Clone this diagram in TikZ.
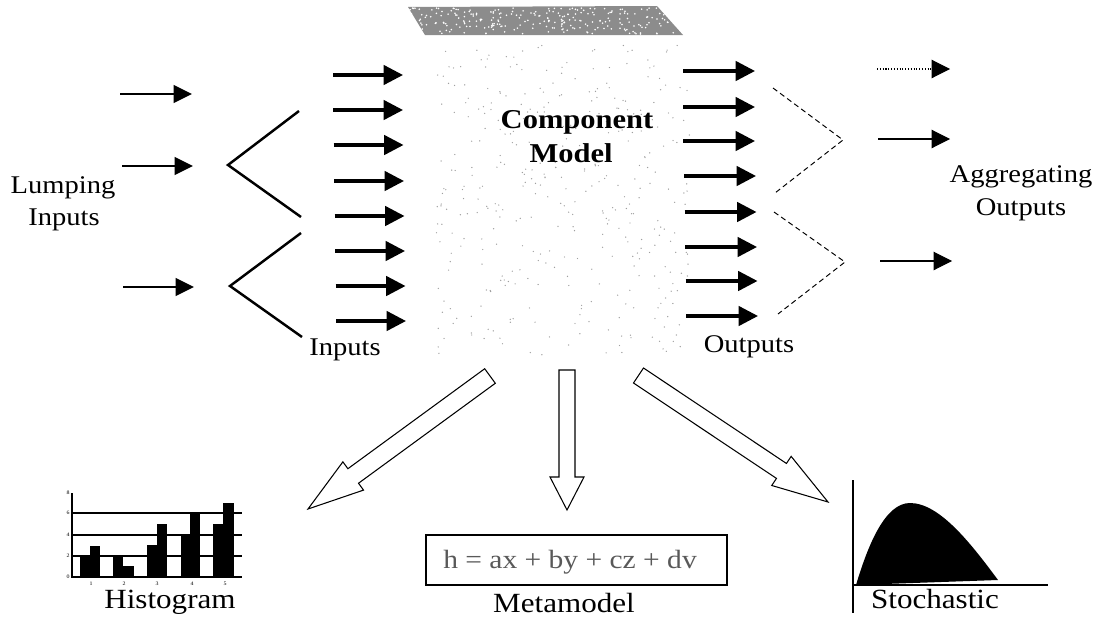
\documentclass[tikz,border=0pt]{standalone}
\usepackage{fontspec}
\setmainfont{Liberation Serif}[FakeStretch=1.12]
\usetikzlibrary{arrows.meta,calc}
\tikzset{
  lbl/.style={font=\fontsize{14.5}{17}\selectfont, inner sep=0pt, anchor=base},
  biglbl/.style={font=\fontsize{15.8}{18}\selectfont, inner sep=0pt, anchor=base},
  boldlbl/.style={font=\fontsize{15.5}{18}\selectfont\bfseries, inner sep=0pt, anchor=base},
  thickarr/.style={line width=1.9pt, -{Triangle[length=11pt,width=11pt]}},
  lumparr/.style={line width=1.4pt, -{Triangle[length=10.5pt,width=10pt]}},
  thinarr/.style={line width=0.6pt, -{Triangle[length=10.5pt,width=10.5pt]}},
  chev/.style={line width=1.4pt},
  dchev/.style={line width=0.55pt, densely dashed},
  blockarr/.style={line width=0.6pt, line join=miter, fill=white},
  speck/.style={fill=gray!75},
}
\newcommand\blockarrow[6]{% name, tail, tip, shaft half, head half, head length
  \coordinate (#1-n) at ($(#3)!#6!(#2)$);
  \draw[blockarr] ($(#2)!#4!90:(#3)$) -- ($(#1-n)!#4!90:(#3)$) -- ($(#1-n)!#5!90:(#3)$)
    -- (#3) -- ($(#1-n)!#5!-90:(#3)$) -- ($(#1-n)!#4!-90:(#3)$) -- ($(#2)!#4!-90:(#3)$) -- cycle;
}
\begin{document}
\begin{tikzpicture}[x=0.02cm, y=-0.02cm]
\useasboundingbox (0,0) rectangle (1098,622);

% ---- component model: shaded top and stippled body
\fill[black!45] (408,7) -- (657,6) -- (683,35) -- (425,35) -- cycle;
\pgfmathsetseed{11}
\foreach \i in {1,...,260}{
  \pgfmathsetmacro\rx{410+270*rnd}
  \pgfmathsetmacro\ry{8+26*rnd}
  \fill[white] (\rx,\ry) circle (0.5pt);
}
\foreach \i in {1,...,380}{
  \pgfmathsetmacro\rx{435+255*rnd}
  \pgfmathsetmacro\ry{45+310*rnd}
  \fill[speck] (\rx,\ry) circle (0.4pt);
}
\node[boldlbl] (compA) at (577,128) {Component};
\node[boldlbl] (compB) at (571,162) {Model};

% ---- lumping inputs
\node[lbl] (lumpA) at (63,193) {Lumping};
\node[lbl] (lumpB) at (64,225) {Inputs};
\coordinate (l1s) at (120,94);  \coordinate (l1e) at (192,94);
\coordinate (l2s) at (122,166); \coordinate (l2e) at (193,166);
\coordinate (l3s) at (123,287); \coordinate (l3e) at (194,287);
\draw[lumparr] (l1s) -- (l1e);
\draw[lumparr] (l2s) -- (l2e);
\draw[lumparr] (l3s) -- (l3e);

% chevrons
\coordinate (c1a) at (299,111); \coordinate (c1v) at (228,165); \coordinate (c1b) at (301,217);
\coordinate (c2a) at (301,233); \coordinate (c2v) at (230,286); \coordinate (c2b) at (302,337);
\draw[chev] (c1a) -- (c1v) -- (c1b);
\draw[chev] (c2a) -- (c2v) -- (c2b);

% inputs
\foreach \y/\d [count=\k] in {75/0,110/0,145/0.5,181/1,216/1.5,251/2,286/2.5,321/3}{
  \coordinate (in\k s) at ({333+\d},\y);
  \coordinate (in\k e) at ({403+\d},\y);
  \draw[thickarr] (in\k s) -- (in\k e);
}
\node[lbl] (inputs) at (345,355) {Inputs};

% outputs
\foreach \y/\d [count=\k] in {71/0,107/0,141/0,176/1,212/1.5,247/2,281/2.5,316/3}{
  \coordinate (out\k s) at ({683+\d},\y);
  \coordinate (out\k e) at ({755+\d},\y);
  \draw[thickarr] (out\k s) -- (out\k e);
}
\node[lbl] (outputs) at (749,352) {Outputs};

% aggregating chevrons (dashed)
\coordinate (d1a) at (773,88);  \coordinate (d1v) at (843,140); \coordinate (d1b) at (775,193);
\coordinate (d2a) at (774,212); \coordinate (d2v) at (845,262); \coordinate (d2b) at (778,314);
\draw[dchev] (d1a) -- (d1v) -- (d1b);
\draw[dchev] (d2a) -- (d2v) -- (d2b);

\coordinate (a1s) at (877,69);  \coordinate (a1e) at (950,69);
\coordinate (a2s) at (878,139); \coordinate (a2e) at (950,139);
\coordinate (a3s) at (880,261); \coordinate (a3e) at (952,261);
\draw[thinarr,densely dotted] (a1s) -- (a1e);
\draw[thinarr] (a2s) -- (a2e);
\draw[thinarr] (a3s) -- (a3e);
\node[lbl] (aggA) at (1021,182) {Aggregating};
\node[lbl] (aggB) at (1021,215) {Outputs};

% ---- block arrows
\coordinate (ba1t) at (490,376); \coordinate (ba1h) at (308,509);
\coordinate (ba2t) at (567,370); \coordinate (ba2h) at (567,510);
\coordinate (ba3t) at (638.5,375.5); \coordinate (ba3h) at (828,502);
\blockarrow{ba1}{ba1t}{ba1h}{0.18cm}{0.35cm}{1.12cm}
\blockarrow{ba2}{ba2t}{ba2h}{0.16cm}{0.34cm}{0.66cm}
\blockarrow{ba3}{ba3t}{ba3h}{0.18cm}{0.35cm}{1.12cm}

% ---- histogram
\draw[line width=0.9pt] (72,493) -- (72,577) -- (242,577);
\foreach \y in {513,535,556}{ \draw[line width=0.9pt] (72,\y) -- (242,\y); }
\foreach \xa/\xb/\top in {80/90/557, 90/100/546, 113/123/557, 123/134/566, 147/157/545, 157/167/524, 181/190/535, 190/200/514, 213/223/524, 223/234/503}{
  \fill (\xa,\top) rectangle (\xb,577);
}
\foreach \v/\y in {0/577,2/556,4/535,6/513,8/493}{
  \node[font=\fontsize{3}{3}\selectfont, inner sep=0pt] (hy\v) at (68,\y) {\v};
}
\foreach \v/\x in {1/91,2/124,3/157,4/192,5/225}{
  \node[font=\fontsize{3}{3}\selectfont, inner sep=0pt] (hx\v) at (\x,584) {\v};
}
\node[biglbl] (hist) at (170,608) {Histogram};

% ---- metamodel
\node[draw, line width=1.2pt, minimum width=6.02cm, minimum height=1.0cm, inner sep=0pt] (mbox) at (576.5,560) {};
\node[lbl, font=\fontsize{15}{17}\selectfont, text=black!65] (eq) at (570,568) {h = ax + by + cz + dv};
\node[biglbl] (meta) at (564,612) {Metamodel};

% ---- stochastic
\fill (856,585) .. controls (868,545) and (885,503) .. (910,503)
      .. controls (940,503) and (972,545) .. (998,580) -- cycle;
\draw[line width=1.1pt] (853,480) -- (853,613);
\draw[line width=1.1pt] (853,585) -- (1048,585);
\node[biglbl] (stoch) at (935,608) {Stochastic};
\end{tikzpicture}
\end{document}
